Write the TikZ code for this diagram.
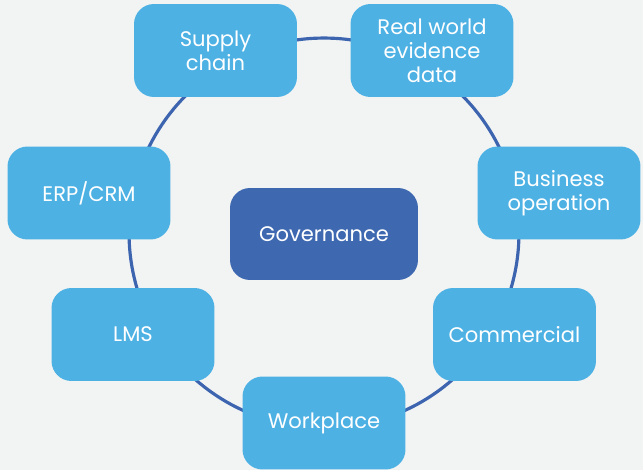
\documentclass[tikz,border=0pt]{standalone}
\usepackage{fontspec}
\setmainfont{Poppins}
\usetikzlibrary{positioning}
\definecolor{bgfill}{HTML}{F2F4F4}
\definecolor{boxblue}{HTML}{4DB1E4}
\definecolor{hubblue}{HTML}{3E69B1}
\definecolor{ringblue}{HTML}{3D65AF}
\tikzset{
	area/.style={rectangle, rounded corners=0.4cm, inner sep=2pt, minimum width=3.26cm, minimum height=1.86cm, fill=boxblue, text=white, align=center, font=\fontsize{12}{13.6}\selectfont},
	hub/.style={area, fill=hubblue, minimum width=3.76cm, minimum height=1.84cm},
	% the ring behind the boxes
	ring/.style={draw=ringblue, line width=1.8pt},
}

\begin{document}
\begin{tikzpicture}[x=0.02cm, y=-0.02cm]
	\fill[bgfill] (0,0) rectangle (643,470);
	\coordinate (mid) at (324,233);
	\draw[ring] (mid) circle[radius=3.9cm];
	
	\node (gov) [hub] at (324,234) {Governance};
	
	\node (supply) [area] at (215.5,50.5) {Supply\\chain};
	\node (rwe) [area] at (432,50.5) {Real world\\evidence\\data};
	\node (biz) [area] at (559,193) {Business\\operation};
	\node (comm) [area] at (514.5,334.5) {Commercial};
	\node (work) [area] at (324,423) {Workplace};
	\node (lms) [area] at (133,334.5) {LMS};
	\node (erp) [area] at (89,193) {ERP/CRM};
\end{tikzpicture}
\end{document}
